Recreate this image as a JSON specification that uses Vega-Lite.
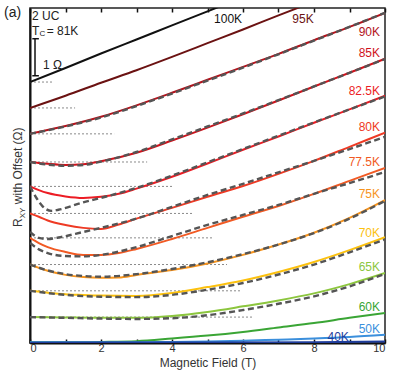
{
"$schema":"https://vega.github.io/schema/vega-lite/v6.json",
"width":355,"height":335,
"autosize":{"type":"none"},
"padding":{"left":30,"top":8,"right":29,"bottom":31},
"config":{"font":"Liberation Sans","view":{"stroke":"#222","strokeWidth":1.5},"axis":{"grid":false}},
"resolve":{"axis":{"x":"independent","y":"independent"}},
"datasets":{
"baselines":[
{"T":"100K","from":0,"to":0.65,"R":7.05},
{"T":"95K","from":0,"to":1.27,"R":6.35},
{"T":"90K","from":0,"to":2.37,"R":5.65},
{"T":"85K","from":0,"to":3.3,"R":4.89},
{"T":"82.5K","from":0,"to":4.03,"R":4.23},
{"T":"80K","from":0,"to":4.6,"R":3.5},
{"T":"77.5K","from":0,"to":5.13,"R":2.84},
{"T":"75K","from":0,"to":5.55,"R":2.12},
{"T":"70K","from":0,"to":5.92,"R":1.41},
{"T":"65K","from":0,"to":6.28,"R":0.7}
],
"curves":[
{"T":"100K","B":0,"R":7.05},{"T":"100K","B":1,"R":7.43},{"T":"100K","B":2,"R":7.82},{"T":"100K","B":3,"R":8.2},{"T":"100K","B":4,"R":8.58},{"T":"100K","B":5,"R":8.96},{"T":"100K","B":6,"R":9.34},{"T":"100K","B":8,"R":10.1},{"T":"100K","B":10,"R":10.86},
{"T":"95K","B":0,"R":6.35},{"T":"95K","B":1,"R":6.68},{"T":"95K","B":2,"R":7.03},{"T":"95K","B":3,"R":7.37},{"T":"95K","B":4,"R":7.73},{"T":"95K","B":5,"R":8.1},{"T":"95K","B":6,"R":8.47},{"T":"95K","B":7,"R":8.85},{"T":"95K","B":8,"R":9.22},{"T":"95K","B":10,"R":9.97},
{"T":"90K","B":0,"R":5.65},{"T":"90K","B":1,"R":5.86},{"T":"90K","B":2,"R":6.11},{"T":"90K","B":3,"R":6.42},{"T":"90K","B":4,"R":6.76},{"T":"90K","B":5,"R":7.11},{"T":"90K","B":6,"R":7.46},{"T":"90K","B":7,"R":7.81},{"T":"90K","B":8,"R":8.18},{"T":"90K","B":9,"R":8.54},{"T":"90K","B":10,"R":8.92},
{"T":"85K","B":0,"R":4.89},{"T":"85K","B":0.5,"R":4.84},{"T":"85K","B":1,"R":4.81},{"T":"85K","B":1.5,"R":4.83},{"T":"85K","B":2,"R":4.91},{"T":"85K","B":3,"R":5.14},{"T":"85K","B":4,"R":5.47},{"T":"85K","B":5,"R":5.82},{"T":"85K","B":6,"R":6.18},{"T":"85K","B":7,"R":6.55},{"T":"85K","B":8,"R":6.93},{"T":"85K","B":9,"R":7.3},{"T":"85K","B":10,"R":7.68},
{"T":"82.5K","B":0,"R":4.23},{"T":"82.5K","B":0.25,"R":4.13},{"T":"82.5K","B":0.5,"R":4.05},{"T":"82.5K","B":1,"R":3.96},{"T":"82.5K","B":1.5,"R":3.92},{"T":"82.5K","B":2,"R":3.95},{"T":"82.5K","B":2.5,"R":4.03},{"T":"82.5K","B":3,"R":4.17},{"T":"82.5K","B":4,"R":4.49},{"T":"82.5K","B":5,"R":4.85},{"T":"82.5K","B":6,"R":5.22},{"T":"82.5K","B":7,"R":5.58},{"T":"82.5K","B":8,"R":5.95},{"T":"82.5K","B":9,"R":6.31},{"T":"82.5K","B":10,"R":6.68},
{"T":"80K","B":0,"R":3.5},{"T":"80K","B":0.25,"R":3.41},{"T":"80K","B":0.5,"R":3.31},{"T":"80K","B":1,"R":3.19},{"T":"80K","B":1.5,"R":3.11},{"T":"80K","B":2,"R":3.08},{"T":"80K","B":2.5,"R":3.2},{"T":"80K","B":3,"R":3.36},{"T":"80K","B":4,"R":3.65},{"T":"80K","B":5,"R":3.95},{"T":"80K","B":6,"R":4.24},{"T":"80K","B":7,"R":4.57},{"T":"80K","B":8,"R":4.92},{"T":"80K","B":9,"R":5.3},{"T":"80K","B":10,"R":5.68},
{"T":"77.5K","B":0,"R":2.84},{"T":"77.5K","B":0.25,"R":2.7},{"T":"77.5K","B":0.5,"R":2.59},{"T":"77.5K","B":1,"R":2.46},{"T":"77.5K","B":1.5,"R":2.38},{"T":"77.5K","B":2,"R":2.38},{"T":"77.5K","B":2.5,"R":2.43},{"T":"77.5K","B":3,"R":2.54},{"T":"77.5K","B":4,"R":2.81},{"T":"77.5K","B":5,"R":3.11},{"T":"77.5K","B":6,"R":3.41},{"T":"77.5K","B":7,"R":3.7},{"T":"77.5K","B":8,"R":4.03},{"T":"77.5K","B":9,"R":4.38},{"T":"77.5K","B":10,"R":4.73},
{"T":"75K","B":0,"R":2.12},{"T":"75K","B":0.25,"R":2.03},{"T":"75K","B":0.5,"R":1.95},{"T":"75K","B":1,"R":1.84},{"T":"75K","B":1.5,"R":1.78},{"T":"75K","B":2,"R":1.76},{"T":"75K","B":2.5,"R":1.77},{"T":"75K","B":3,"R":1.84},{"T":"75K","B":4,"R":1.97},{"T":"75K","B":5,"R":2.15},{"T":"75K","B":6,"R":2.38},{"T":"75K","B":7,"R":2.66},{"T":"75K","B":8,"R":2.98},{"T":"75K","B":9,"R":3.38},{"T":"75K","B":10,"R":3.86},
{"T":"70K","B":0,"R":1.41},{"T":"70K","B":0.5,"R":1.36},{"T":"70K","B":1,"R":1.32},{"T":"70K","B":1.5,"R":1.3},{"T":"70K","B":2,"R":1.28},{"T":"70K","B":3,"R":1.27},{"T":"70K","B":4,"R":1.35},{"T":"70K","B":5,"R":1.51},{"T":"70K","B":6,"R":1.69},{"T":"70K","B":7,"R":1.92},{"T":"70K","B":8,"R":2.19},{"T":"70K","B":9,"R":2.51},{"T":"70K","B":10,"R":2.86},
{"T":"65K","B":0,"R":0.7},{"T":"65K","B":1,"R":0.69},{"T":"65K","B":2,"R":0.68},{"T":"65K","B":3,"R":0.68},{"T":"65K","B":4,"R":0.73},{"T":"65K","B":5,"R":0.84},{"T":"65K","B":6,"R":0.99},{"T":"65K","B":7,"R":1.15},{"T":"65K","B":8,"R":1.34},{"T":"65K","B":9,"R":1.59},{"T":"65K","B":10,"R":1.89},
{"T":"60K","B":0,"R":0.02},{"T":"60K","B":1,"R":0.02},{"T":"60K","B":2,"R":0.03},{"T":"60K","B":3,"R":0.05},{"T":"60K","B":4,"R":0.12},{"T":"60K","B":5,"R":0.2},{"T":"60K","B":6,"R":0.3},{"T":"60K","B":7,"R":0.42},{"T":"60K","B":8,"R":0.54},{"T":"60K","B":9,"R":0.68},{"T":"60K","B":10,"R":0.81},
{"T":"50K","B":0,"R":0.02},{"T":"50K","B":3,"R":0.02},{"T":"50K","B":4,"R":0.03},{"T":"50K","B":5,"R":0.04},{"T":"50K","B":6,"R":0.06},{"T":"50K","B":7,"R":0.09},{"T":"50K","B":8,"R":0.12},{"T":"50K","B":9,"R":0.16},{"T":"50K","B":10,"R":0.22},
{"T":"40K","B":0,"R":0.01},{"T":"40K","B":5,"R":0.012},{"T":"40K","B":8,"R":0.02},{"T":"40K","B":10,"R":0.04}
],
"fits":[
{"T":"90K","B":0,"R":5.65},{"T":"90K","B":1,"R":5.85},{"T":"90K","B":2,"R":6.09},{"T":"90K","B":3,"R":6.4},{"T":"90K","B":4,"R":6.74},{"T":"90K","B":5,"R":7.09},{"T":"90K","B":6,"R":7.44},{"T":"90K","B":7,"R":7.8},{"T":"90K","B":8,"R":8.17},{"T":"90K","B":9,"R":8.54},{"T":"90K","B":10,"R":8.92},
{"T":"85K","B":0,"R":4.89},{"T":"85K","B":0.5,"R":4.82},{"T":"85K","B":1,"R":4.79},{"T":"85K","B":1.5,"R":4.81},{"T":"85K","B":2,"R":4.9},{"T":"85K","B":3,"R":5.16},{"T":"85K","B":4,"R":5.5},{"T":"85K","B":5,"R":5.85},{"T":"85K","B":6,"R":6.2},{"T":"85K","B":7,"R":6.56},{"T":"85K","B":8,"R":6.93},{"T":"85K","B":9,"R":7.3},{"T":"85K","B":10,"R":7.67},
{"T":"82.5K","B":0,"R":4.23},{"T":"82.5K","B":0.1,"R":4.05},{"T":"82.5K","B":0.2,"R":3.89},{"T":"82.5K","B":0.35,"R":3.7},{"T":"82.5K","B":0.6,"R":3.57},{"T":"82.5K","B":0.8,"R":3.6},{"T":"82.5K","B":1.5,"R":3.8},{"T":"82.5K","B":2,"R":3.92},{"T":"82.5K","B":3,"R":4.19},{"T":"82.5K","B":4,"R":4.52},{"T":"82.5K","B":5,"R":4.88},{"T":"82.5K","B":6,"R":5.24},{"T":"82.5K","B":7,"R":5.6},{"T":"82.5K","B":8,"R":5.96},{"T":"82.5K","B":9,"R":6.31},{"T":"82.5K","B":10,"R":6.66},
{"T":"80K","B":0,"R":3.0},{"T":"80K","B":0.25,"R":2.84},{"T":"80K","B":0.5,"R":2.81},{"T":"80K","B":0.8,"R":2.85},{"T":"80K","B":1.5,"R":3.0},{"T":"80K","B":2,"R":3.11},{"T":"80K","B":3,"R":3.36},{"T":"80K","B":4,"R":3.68},{"T":"80K","B":5,"R":4.0},{"T":"80K","B":6,"R":4.3},{"T":"80K","B":7,"R":4.61},{"T":"80K","B":8,"R":4.92},{"T":"80K","B":9,"R":5.24},{"T":"80K","B":10,"R":5.57},
{"T":"77.5K","B":0,"R":2.7},{"T":"77.5K","B":0.25,"R":2.53},{"T":"77.5K","B":0.5,"R":2.43},{"T":"77.5K","B":1,"R":2.35},{"T":"77.5K","B":1.5,"R":2.34},{"T":"77.5K","B":2,"R":2.38},{"T":"77.5K","B":3,"R":2.59},{"T":"77.5K","B":4,"R":2.89},{"T":"77.5K","B":5,"R":3.19},{"T":"77.5K","B":6,"R":3.46},{"T":"77.5K","B":7,"R":3.73},{"T":"77.5K","B":8,"R":4.03},{"T":"77.5K","B":9,"R":4.32},{"T":"77.5K","B":10,"R":4.62},
{"T":"75K","B":0,"R":2.12},{"T":"75K","B":0.5,"R":1.96},{"T":"75K","B":1,"R":1.86},{"T":"75K","B":1.5,"R":1.81},{"T":"75K","B":2,"R":1.79},{"T":"75K","B":3,"R":1.86},{"T":"75K","B":4,"R":2.0},{"T":"75K","B":5,"R":2.18},{"T":"75K","B":6,"R":2.4},{"T":"75K","B":7,"R":2.66},{"T":"75K","B":8,"R":2.97},{"T":"75K","B":9,"R":3.36},{"T":"75K","B":10,"R":3.84},
{"T":"70K","B":0,"R":1.41},{"T":"70K","B":1,"R":1.3},{"T":"70K","B":2,"R":1.25},{"T":"70K","B":3,"R":1.24},{"T":"70K","B":4,"R":1.3},{"T":"70K","B":5,"R":1.44},{"T":"70K","B":6,"R":1.62},{"T":"70K","B":7,"R":1.85},{"T":"70K","B":8,"R":2.12},{"T":"70K","B":9,"R":2.45},{"T":"70K","B":10,"R":2.8},
{"T":"65K","B":0,"R":0.7},{"T":"65K","B":1,"R":0.68},{"T":"65K","B":2,"R":0.66},{"T":"65K","B":3,"R":0.65},{"T":"65K","B":4,"R":0.67},{"T":"65K","B":5,"R":0.75},{"T":"65K","B":6,"R":0.89},{"T":"65K","B":7,"R":1.06},{"T":"65K","B":8,"R":1.26},{"T":"65K","B":9,"R":1.53},{"T":"65K","B":10,"R":1.87}
],
"labelsRight":[
{"T":"90K","B":9.86,"R":8.41},{"T":"85K","B":9.86,"R":7.84},{"T":"82.5K","B":9.86,"R":6.81},{"T":"80K","B":9.86,"R":5.84},{"T":"77.5K","B":9.86,"R":4.89},{"T":"75K","B":9.86,"R":4.03},{"T":"70K","B":9.86,"R":2.97},{"T":"65K","B":9.86,"R":2.05},{"T":"60K","B":9.86,"R":0.97},{"T":"50K","B":9.86,"R":0.38}
],
"labelsCenter":[
{"T":"100K","B":5.58,"R":8.76},{"T":"95K","B":7.69,"R":8.76},{"T":"40K","B":8.68,"R":0.16}
],
"bar":[{"B":0.141,"R0":7.22,"R1":8.22}],
"caps":[{"B0":0.065,"B1":0.25,"R":7.22},{"B0":0.065,"B1":0.25,"R":8.22}],
"notes":[{"txt":"2 UC","B":0.056,"R":8.83},{"txt":"T","B":0.056,"R":8.44},{"txt":"= 81K","B":0.47,"R":8.44},{"txt":"1 Ω","B":0.366,"R":7.51}],
"notesSmall":[{"txt":"C","B":0.27,"R":8.34}],
"notesBig":[{"txt":"(a)","B":-0.73,"R":8.92}],
"ytitle":[{"txt":"R","B":-0.225,"R":3.135},{"txt":"with Offset (Ω)","B":-0.225,"R":3.75}],
"ytitleSub":[{"txt":"XY","B":-0.141,"R":3.37}]
},
"layer":[
{"data":{"name":"baselines"},
 "mark":{"type":"rule","color":"#8a8a8a","strokeDash":[2,2],"strokeWidth":1},
 "encoding":{
  "x":{"field":"from","type":"quantitative","scale":{"domain":[0,10],"nice":false},
       "axis":{"orient":"top","labels":false,"title":null,"domain":false,"values":[0,1,2,3,4,5,6,7,8,9,10],"tickSize":-4,"tickColor":"#111","tickWidth":1.5}},
  "x2":{"field":"to"},
  "y":{"field":"R","type":"quantitative","scale":{"domain":[0,9.05],"nice":false,"zero":false},
       "axis":{"orient":"left","labels":false,"ticks":false,"title":null,"domainColor":"#111","domainWidth":2}}}},
{"data":{"name":"curves"},
 "mark":{"type":"line","clip":true,"interpolate":"monotone","strokeWidth":2},
 "encoding":{
  "x":{"field":"B","type":"quantitative","scale":{"domain":[0,10],"nice":false},
       "axis":{"orient":"bottom","title":"Magnetic Field (T)","titleFontSize":12,"titleFontWeight":"normal","titleColor":"#333","titlePadding":4,
               "values":[0,1,2,3,4,5,6,7,8,9,10],"labelExpr":"datum.value % 2 === 0 ? datum.label : ''",
               "labelFontSize":11,"labelColor":"#333","labelPadding":3,"tickSize":-4,"tickColor":"#111","tickWidth":1.5,"domainColor":"#111","domainWidth":2}},
  "y":{"field":"R","type":"quantitative","axis":null},
  "color":{"field":"T","type":"nominal","legend":null,
    "scale":{"domain":["100K","95K","90K","85K","82.5K","80K","77.5K","75K","70K","65K","60K","50K","40K"],
             "range":["#111111","#6b1212","#b3131c","#d0121b","#ec1c24","#ee3a24","#f15a24","#f7941d","#fcc10f","#8cc63e","#3aa535","#3b8fdc","#1f3d9c"]}}}},
{"data":{"name":"fits"},
 "mark":{"type":"line","clip":true,"interpolate":"monotone","strokeWidth":2.4,"color":"#555555","strokeDash":[6,3.5]},
 "encoding":{
  "x":{"field":"B","type":"quantitative","axis":null},
  "y":{"field":"R","type":"quantitative","axis":null},
  "detail":{"field":"T","type":"nominal"}}},
{"data":{"name":"labelsRight"},
 "mark":{"type":"text","align":"right","baseline":"middle","fontSize":12},
 "encoding":{
  "x":{"field":"B","type":"quantitative","axis":null},
  "y":{"field":"R","type":"quantitative","axis":null},
  "text":{"field":"T"},
  "color":{"field":"T","type":"nominal","legend":null}}},
{"data":{"name":"labelsCenter"},
 "mark":{"type":"text","align":"center","baseline":"middle","fontSize":12},
 "encoding":{
  "x":{"field":"B","type":"quantitative","axis":null},
  "y":{"field":"R","type":"quantitative","axis":null},
  "text":{"field":"T"},
  "color":{"field":"T","type":"nominal","legend":null}}},
{"data":{"name":"bar"},
 "mark":{"type":"rule","color":"#111","strokeWidth":1.5},
 "encoding":{
  "x":{"field":"B","type":"quantitative","axis":null},
  "y":{"field":"R0","type":"quantitative","axis":null},
  "y2":{"field":"R1"}}},
{"data":{"name":"caps"},
 "mark":{"type":"rule","color":"#111","strokeWidth":1.5},
 "encoding":{
  "x":{"field":"B0","type":"quantitative","axis":null},
  "x2":{"field":"B1"},
  "y":{"field":"R","type":"quantitative","axis":null}}},
{"data":{"name":"notes"},
 "mark":{"type":"text","align":"left","baseline":"middle","fontSize":12,"color":"#222"},
 "encoding":{
  "x":{"field":"B","type":"quantitative","axis":null},
  "y":{"field":"R","type":"quantitative","axis":null},
  "text":{"field":"txt"}}},
{"data":{"name":"notesSmall"},
 "mark":{"type":"text","align":"left","baseline":"middle","fontSize":8,"color":"#222"},
 "encoding":{
  "x":{"field":"B","type":"quantitative","axis":null},
  "y":{"field":"R","type":"quantitative","axis":null},
  "text":{"field":"txt"}}},
{"data":{"name":"notesBig"},
 "mark":{"type":"text","align":"left","baseline":"middle","fontSize":14,"color":"#222"},
 "encoding":{
  "x":{"field":"B","type":"quantitative","axis":null},
  "y":{"field":"R","type":"quantitative","axis":null},
  "text":{"field":"txt"}}},
{"data":{"name":"ytitle"},
 "mark":{"type":"text","align":"left","baseline":"alphabetic","fontSize":12,"angle":270,"color":"#333"},
 "encoding":{
  "x":{"field":"B","type":"quantitative","axis":null},
  "y":{"field":"R","type":"quantitative","axis":null},
  "text":{"field":"txt"}}},
{"data":{"name":"ytitleSub"},
 "mark":{"type":"text","align":"left","baseline":"alphabetic","fontSize":8,"angle":270,"color":"#333"},
 "encoding":{
  "x":{"field":"B","type":"quantitative","axis":null},
  "y":{"field":"R","type":"quantitative","axis":null},
  "text":{"field":"txt"}}}
]
}
